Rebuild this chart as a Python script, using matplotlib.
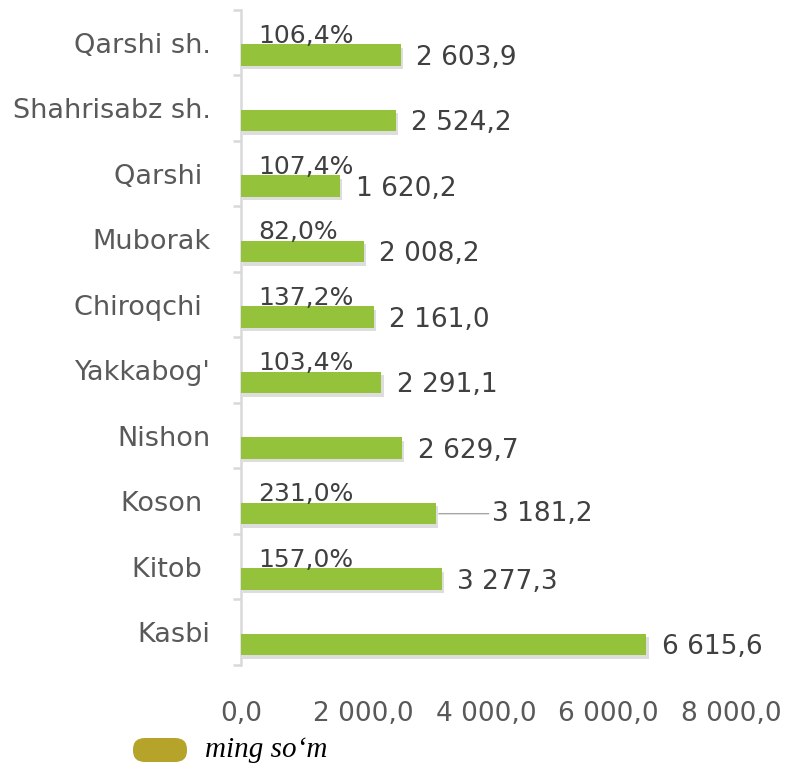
import matplotlib
matplotlib.use("Agg")
import matplotlib.pyplot as plt
import matplotlib.patheffects as pe
from matplotlib.patches import FancyBboxPatch
import numpy as np

# districts, top to bottom as in the chart
districts = ["Qarshi sh.", "Shahrisabz sh.", "Qarshi ", "Muborak", "Chiroqchi ",
             "Yakkabog'", "Nishon", "Koson ", "Kitob ", "Kasbi"]
values = [2603.9, 2524.2, 1620.2, 2008.2, 2161.0, 2291.1, 2629.7, 3181.2, 3277.3, 6615.6]
growth = ["106,4%", None, "107,4%", "82,0%", "137,2%", "103,4%", None, "231,0%", "157,0%", None]
x_ticks = [0, 2000, 4000, 6000, 8000]
legend_label = "ming so\u2018m"


def fmt(v):
    # 2603.9 -> "2 603,9"
    return f"{v:,.1f}".replace(",", " ").replace(".", ",")


fig = plt.figure(figsize=(7.88, 7.67), dpi=100)
ax = fig.add_axes([0.306, 0.133, 0.622, 0.854])

pos = np.arange(len(districts))
shift = 0.19
height = 0.33
bars = ax.barh(pos + shift, values, height=height, color="#94C23B", zorder=3)
for b in bars:
    b.set_path_effects([pe.SimplePatchShadow(offset=(1.5, -2.5), shadow_rgbFace="#909090", alpha=0.3),
                        pe.Normal()])

ax.set_xlim(0, 8000)
ax.set_ylim(len(districts) - 0.5, -0.5)

# value labels right of bars
for i, v in enumerate(values):
    if districts[i].strip() == "Koson":
        ax.annotate(fmt(v), xy=(v, i + shift), xytext=(40, 0), textcoords="offset points",
                    va="center", ha="left", fontsize=19, color="#404040",
                    arrowprops=dict(arrowstyle="-", color="#A6A6A6", lw=1, shrinkA=0, shrinkB=2))
    else:
        ax.annotate(fmt(v), xy=(v, i + shift), xytext=(11, -2), textcoords="offset points",
                    va="center", ha="left", fontsize=19, color="#404040")

# growth percent labels above bars
for i, g in enumerate(growth):
    if g is None:
        continue
    ax.annotate(g, xy=(0, i + shift - height / 2), xytext=(12, 1), textcoords="offset points",
                va="baseline", ha="left", fontsize=18, color="#404040", zorder=4)

# category boundaries as major ticks, names as minor ticks
ax.set_yticks(np.arange(-0.5, len(districts), 1.0))
ax.set_yticklabels([])
ax.set_yticks(pos, minor=True)
ax.set_yticklabels(districts, minor=True, fontsize=19.5, color="#595959")
ax.tick_params(axis="y", which="major", length=6, width=1.8, color="#D9D9D9", direction="out")
ax.tick_params(axis="y", which="minor", length=0, pad=22)

ax.set_xticks(x_ticks)
ax.set_xticklabels([fmt(t) for t in x_ticks], fontsize=19, color="#595959")
ax.tick_params(axis="x", length=0, pad=26)

for side in ["top", "right", "bottom"]:
    ax.spines[side].set_visible(False)
ax.spines["left"].set_color("#D9D9D9")
ax.spines["left"].set_linewidth(1.8)

# legend: olive pill with italic label
pill = FancyBboxPatch((133 / 788, 1 - 762 / 767), 54 / 788, 24 / 767,
                      boxstyle="round,pad=0,rounding_size=0.015",
                      transform=fig.transFigure, facecolor="#B5A32A", edgecolor="none")
fig.patches.append(pill)
fig.text(205 / 788, 1 - 750 / 767, legend_label, fontsize=21, style="italic",
         family=["Liberation Serif", "DejaVu Serif"], va="center", ha="left", color="black")

fig.savefig("out.png", dpi=100)
